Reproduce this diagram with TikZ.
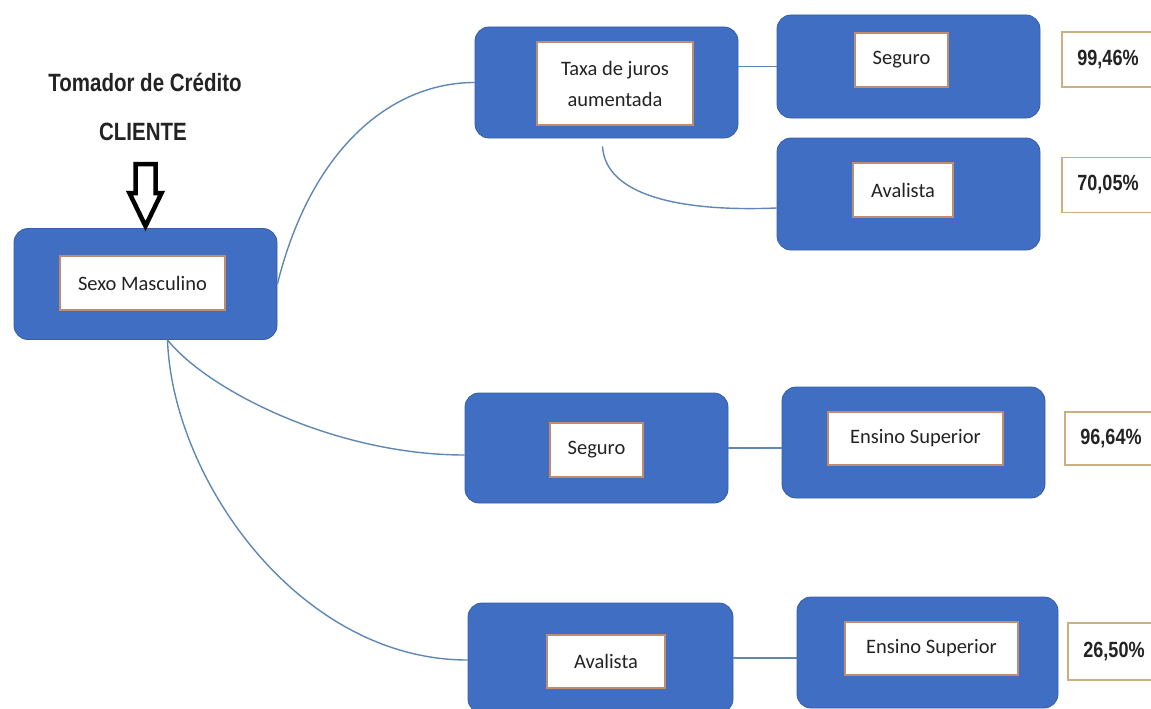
\documentclass[tikz,border=0pt]{standalone}
\usepackage{fontspec}
\setmainfont{Carlito}
\newfontfamily\narrowbold[FakeStretch=0.82]{Liberation Sans}
\usetikzlibrary{positioning}
\definecolor{boxBlue}{RGB}{64,110,194}
\definecolor{lineBlue}{RGB}{95,135,180}
\definecolor{innerEdge}{RGB}{190,140,110}
\definecolor{pctEdge}{RGB}{205,175,130}
\definecolor{txtGray}{RGB}{35,35,35}

\begin{document}
\begin{tikzpicture}[x=1pt, y=-1pt,
    bluebox/.style={rectangle, rounded corners=14pt, draw=boxBlue!85!black, line width=0.8pt, fill=boxBlue, minimum width=263pt, minimum height=111pt, inner sep=0pt},
    innerbox/.style={rectangle, draw=innerEdge, line width=1.2pt, fill=white, text=txtGray, font=\fontsize{20.5}{31}\selectfont, align=center, inner sep=0pt, minimum height=54pt},
    pct/.style={rectangle, draw=pctEdge, line width=1.2pt, fill=white, text=txtGray, font=\narrowbold\bfseries\fontsize{22}{26}\selectfont, minimum width=92pt, minimum height=55pt, inner sep=0pt},
    titletext/.style={text=txtGray, font=\narrowbold\bfseries\fontsize{25}{30}\selectfont},
    fatarrow/.style={draw=black, line width=4.5pt, fill=white, line join=miter},
    connector/.style={draw=lineBlue, line width=1.4pt},
]
\useasboundingbox (0,0) rectangle (1151,709);
\clip (0,0) rectangle (1151,709);

% Client
\node[titletext] (tomador) at (145,82) {Tomador de Crédito};
\node[titletext] (cliente) at (143,132) {CLIENTE};
\node[bluebox] (sexo) at (145.5,284) {};
\node[innerbox, minimum width=165pt] (sexoTxt) at (142.5,283) {Sexo Masculino};
\draw[fatarrow] ([yshift=2pt]sexo.north) -- ++(-16,-33) -- ++(6,0) -- ++(0,-29) -- ++(20,0) -- ++(0,29) -- ++(6,0) -- cycle;

% Upper branch
\node[bluebox] (taxa) at (606.5,82.5) {};
\node[innerbox, minimum width=156pt, minimum height=83pt] (taxaTxt) at (615,83.5) {Taxa de juros\\aumentada};
\node[bluebox, minimum height=103pt] (seguroA) at (908.5,66.5) {};
\node[innerbox, minimum width=93pt] (seguroATxt) at (901.5,60) {Seguro};
\node[bluebox, minimum height=112pt] (avalA) at (908.5,194) {};
\node[innerbox, minimum width=100pt] (avalATxt) at (903,190) {Avalista};
\node[pct] (pctSeguroA) at (1108,59.5) {99,46\%};
\node[pct] (pctAvalA) at (1108,185) {70,05\%};

% Middle branch
\node[bluebox, minimum height=110pt] (seguroM) at (596.5,448) {};
\node[innerbox, minimum width=93pt] (seguroMTxt) at (596.5,450) {Seguro};
\node[bluebox] (ensinoM) at (913.5,442.5) {};
\node[innerbox, minimum width=175pt, minimum height=53pt] (ensinoMTxt) at (915.5,438.5) {Ensino Superior};
\node[pct, minimum height=53pt] (pctEnsinoM) at (1111,438.5) {96,64\%};

% Lower branch
\node[bluebox, minimum width=265pt, minimum height=110pt] (avalB) at (600.5,658) {};
\node[innerbox, minimum width=118pt, minimum height=53pt] (avalBTxt) at (606,661.5) {Avalista};
\node[bluebox, minimum width=261pt] (ensinoB) at (927.5,652.5) {};
\node[innerbox, minimum width=173pt, minimum height=53pt] (ensinoBTxt) at (931.5,648.5) {Ensino Superior};
\node[pct, minimum height=57pt] (pctEnsinoB) at (1114,651.5) {26,50\%};

% Connectors
\draw[connector] (sexo.east) .. controls +(35,-140) and +(-80,0) .. (taxa.west);
\draw[connector] ([xshift=22pt]sexo.south) .. controls +(40,50) and +(-130,0) .. ([yshift=-7pt]seguroM.west);
\draw[connector] ([xshift=22pt]sexo.south) .. controls +(5,140) and +(-168,0) .. ([yshift=-2pt]avalB.west);
\draw[connector] (seguroA.west -| taxa.east) -- (seguroA.west);
\draw[connector] ([xshift=-4pt,yshift=-8pt]taxa.south) .. controls +(3,49) and +(-97,4) .. ([yshift=-14pt]avalA.west);
\draw[connector] (seguroM.east) -- (seguroM.east -| ensinoM.west);
\draw[connector] (avalB.east) -- (avalB.east -| ensinoB.west);

\end{tikzpicture}
\end{document}
